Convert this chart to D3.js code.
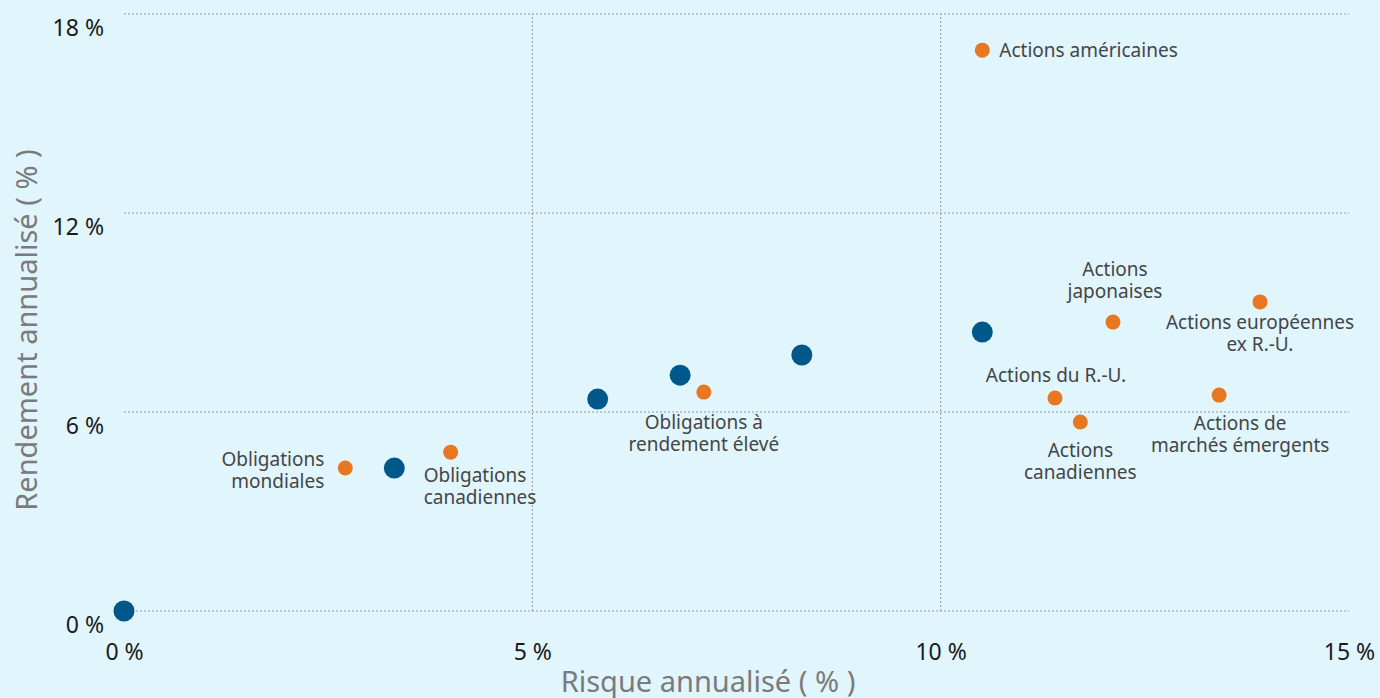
<!DOCTYPE html>
<html><head><meta charset="utf-8">
<script src="https://cdn.jsdelivr.net/npm/d3@7"></script>
<style>
html,body{margin:0;padding:0;background:#e1f5fd;}
svg{display:block;font-family:"Noto Sans","Open Sans",sans-serif;}
</style></head><body>
<svg id="c" width="1380" height="698"></svg>
<script>
// Data
const xTicks = [0, 5, 10, 15];
const yTicks = [0, 6, 12, 18];
const portfolioRisk   = [0, 3.31, 5.80, 6.81, 8.30, 10.51];
const portfolioReturn = [0, 4.31, 6.39, 7.11, 7.72, 8.41];
const assetNames  = ["Obligations\nmondiales", "Obligations\ncanadiennes", "Obligations à\nrendement élevé", "Actions américaines", "Actions\njaponaises", "Actions européennes\nex R.-U.", "Actions du R.-U.", "Actions\ncanadiennes", "Actions de\nmarchés émergents"];
const assetRisk   = [2.71, 4.00, 7.10, 10.51, 12.11, 13.91, 11.40, 11.71, 13.41];
const assetReturn = [4.31, 4.79, 6.60, 16.91, 8.71, 9.32, 6.42, 5.70, 6.51];
// Label placement (layout only): dx, dy offsets of first line, anchor
const labelLayout = [
  {dx:-21, dy:-2, a:"end"},
  {dx:-27, dy:30, a:"start"},
  {dx:0, dy:37, a:"middle"},
  {dx:17, dy:7, a:"start"},
  {dx:2, dy:-46, a:"middle"},
  {dx:0, dy:27, a:"middle"},
  {dx:1, dy:-16, a:"middle"},
  {dx:0, dy:35, a:"middle"},
  {dx:21, dy:35, a:"middle"}
];

const svg = d3.select("#c");
const x = d3.scaleLinear().domain([0,15]).range([124,1349]);
const y = d3.scaleLinear().domain([0,18]).range([611,14]);

// gridlines
svg.append("g").selectAll("line").data(yTicks).join("line")
  .attr("x1", x(0)).attr("x2", x(15))
  .attr("y1", d=>y(d)).attr("y2", d=>y(d))
  .attr("stroke","#9a9a9a").attr("stroke-width",1).attr("stroke-dasharray","2,2");
svg.append("g").selectAll("line").data([5,10]).join("line")
  .attr("x1", d=>x(d)).attr("x2", d=>x(d))
  .attr("y1", y(0)).attr("y2", y(18))
  .attr("stroke","#9a9a9a").attr("stroke-width",1).attr("stroke-dasharray","2,2");

// axes
const yAxis = d3.axisLeft(y).tickValues(yTicks).tickFormat(d=>d+" %").tickSize(0).tickPadding(20);
const gy = svg.append("g").attr("transform","translate(124,0)").call(yAxis);
gy.select(".domain").remove();
gy.selectAll("text").attr("font-size",23).attr("fill","#1a1a1a").attr("font-family","Noto Sans").attr("dy","0.92em");

const xAxis = d3.axisBottom(x).tickValues(xTicks).tickFormat(d=>d+" %").tickSize(0).tickPadding(33);
const gx = svg.append("g").attr("transform","translate(0,611)").call(xAxis);
gx.select(".domain").remove();
gx.selectAll("text").attr("font-size",23).attr("fill","#1a1a1a").attr("font-family","Noto Sans");

// axis titles
svg.append("text").attr("x",708).attr("y",692).attr("text-anchor","middle")
  .attr("font-size",29).attr("fill","#7b7b7b").text("Risque annualisé ( % )");
svg.append("text").attr("transform","translate(37,330) rotate(-90)").attr("text-anchor","middle")
  .attr("font-size",29).attr("fill","#7b7b7b").text("Rendement annualisé ( % )");

// portfolio points
svg.append("g").selectAll("circle").data(portfolioRisk).join("circle")
  .attr("cx", d=>x(d)).attr("cy", (d,i)=>y(portfolioReturn[i])).attr("r",10.5)
  .attr("fill","#00578a");

// asset points
svg.append("g").selectAll("circle").data(assetRisk).join("circle")
  .attr("cx", d=>x(d)).attr("cy", (d,i)=>y(assetReturn[i])).attr("r",7.5)
  .attr("fill","#e87722");

// labels
const lg = svg.append("g");
assetNames.forEach((n,i)=>{
  const L = labelLayout[i];
  const t = lg.append("text")
    .attr("x", x(assetRisk[i])+L.dx).attr("y", y(assetReturn[i])+L.dy)
    .attr("text-anchor", L.a).attr("font-size",19).attr("fill","#454545");
  n.split("\n").forEach((line,j)=>{
    t.append("tspan").attr("x", x(assetRisk[i])+L.dx).attr("dy", j===0?0:22).text(line);
  });
});
</script>
</body></html>
